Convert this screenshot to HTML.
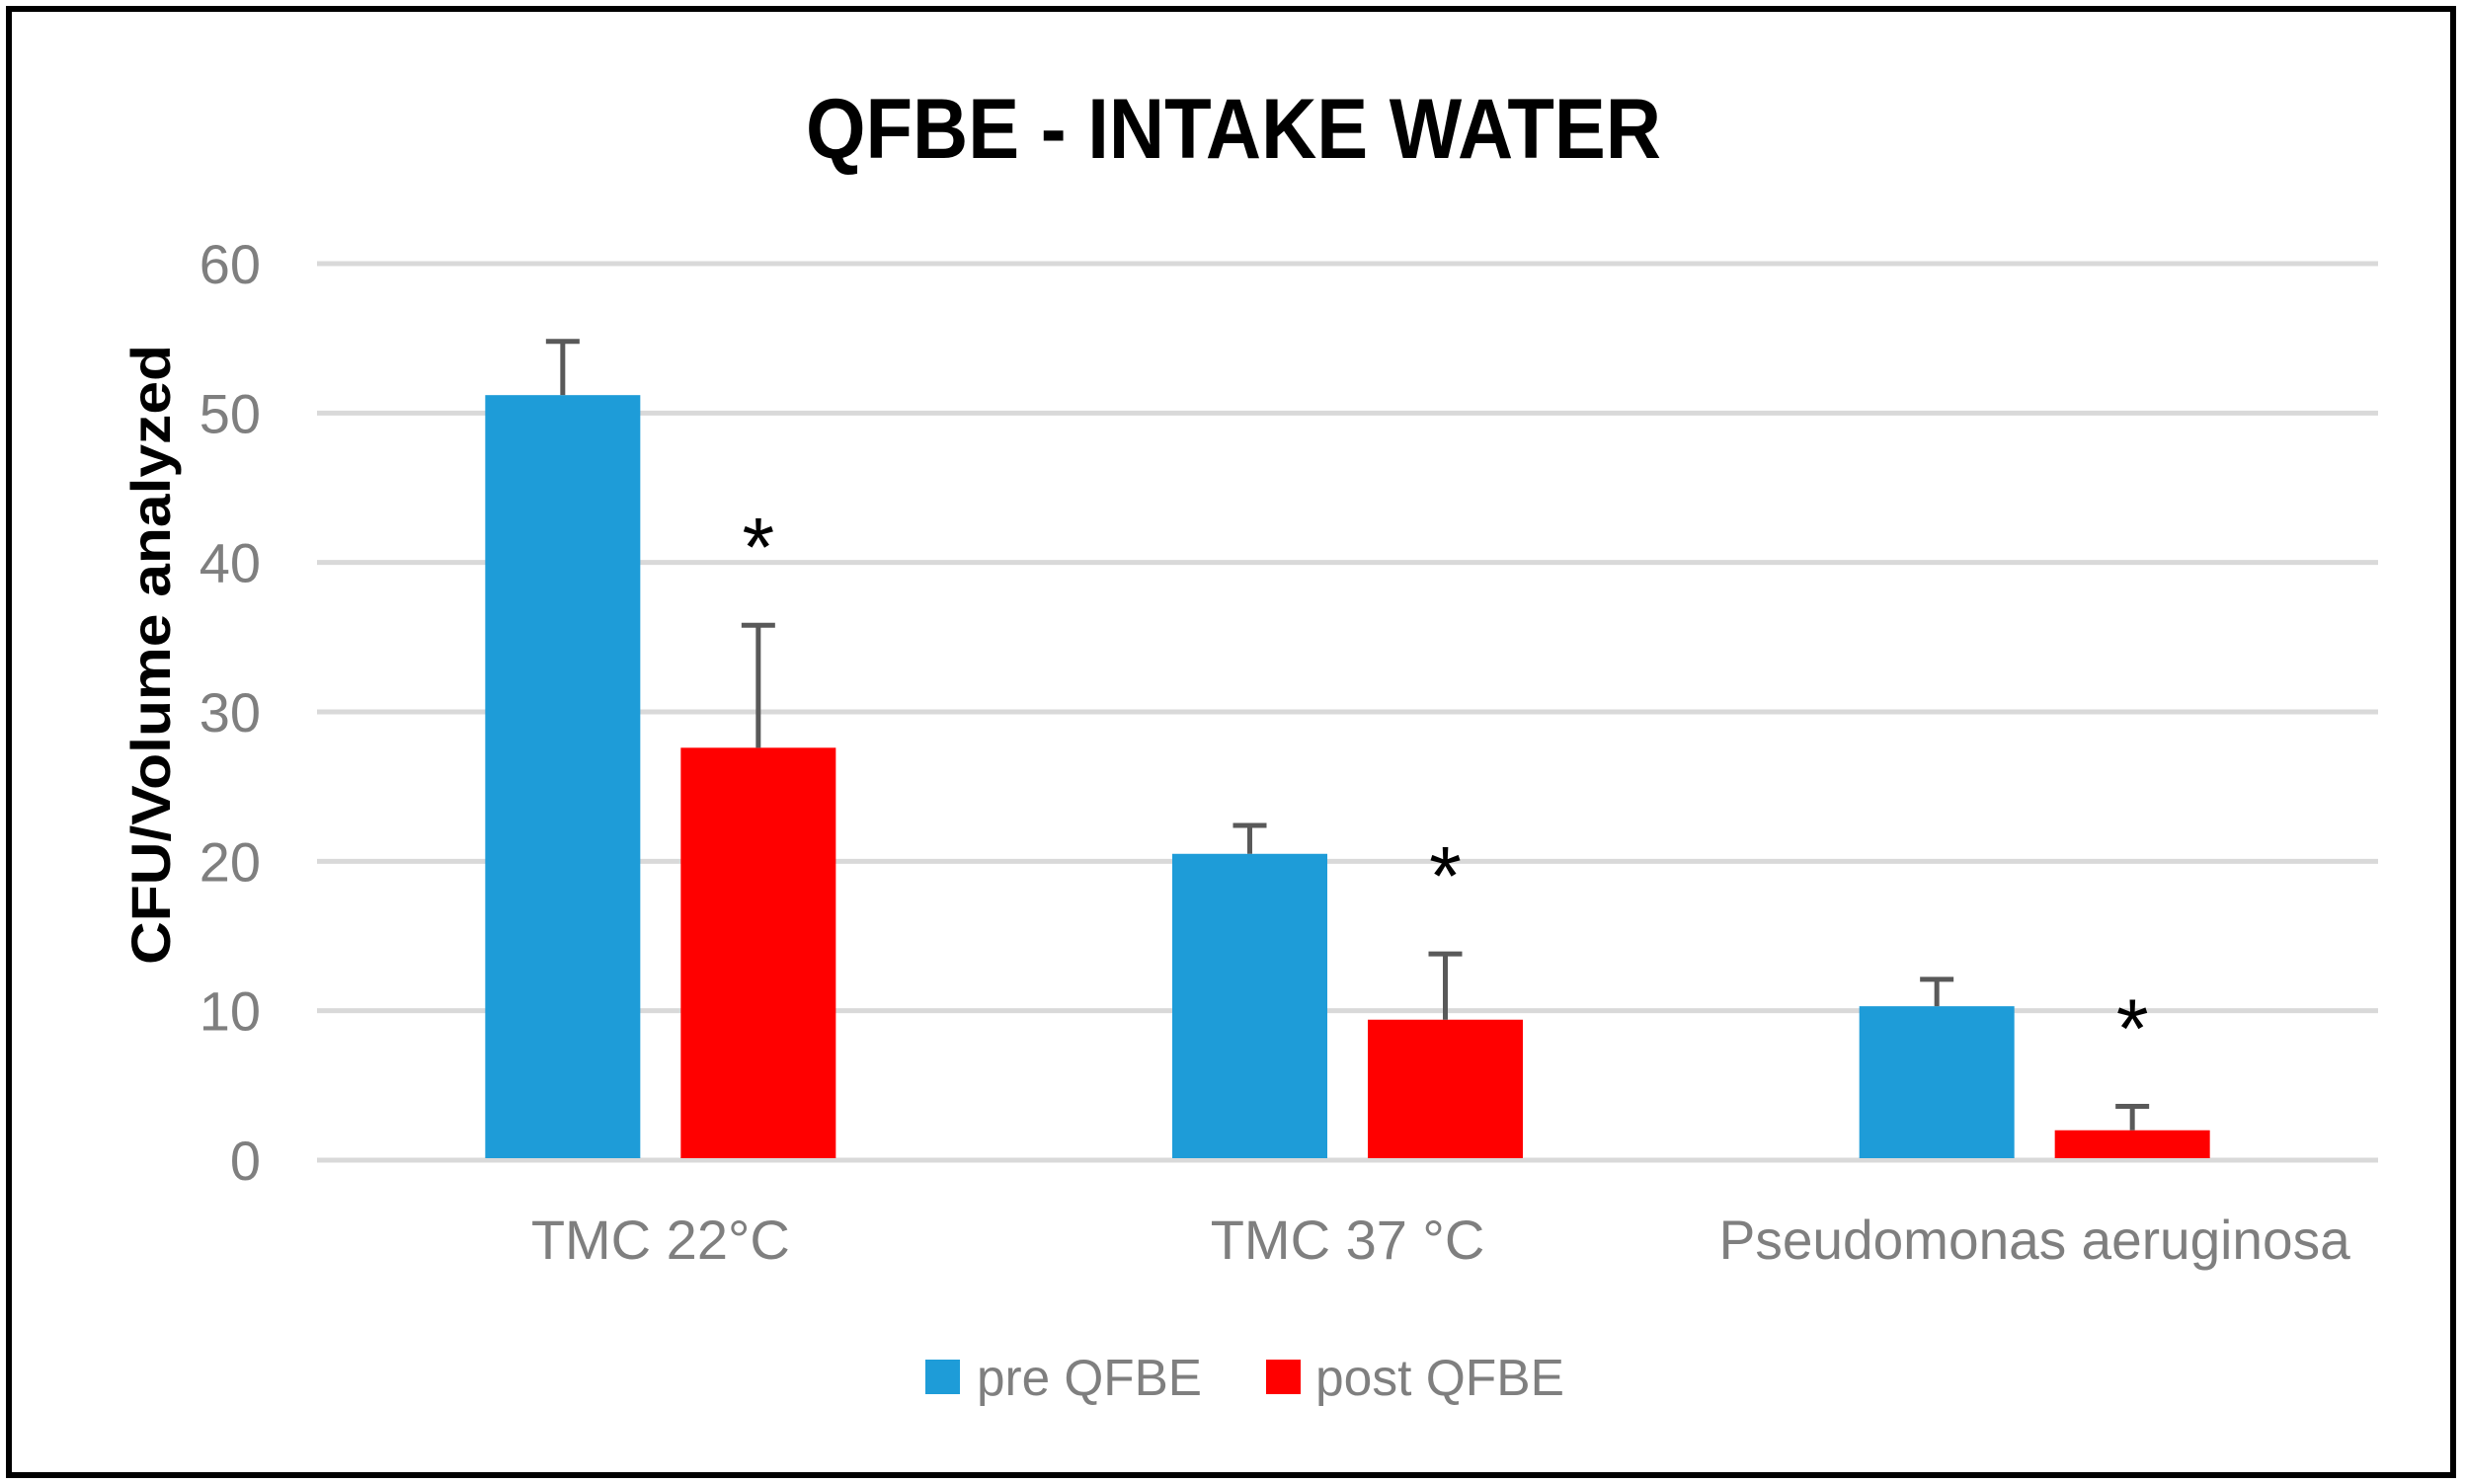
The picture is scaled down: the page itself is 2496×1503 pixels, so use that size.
<!DOCTYPE html>
<html><head><meta charset="utf-8"><style>
html,body{margin:0;padding:0;background:#fff;}
svg{display:block;}
</style></head><body>
<svg id="chart" width="2496" height="1503" viewBox="0 0 2496 1503" xmlns="http://www.w3.org/2000/svg" font-family="'Liberation Sans', sans-serif">
<rect x="9" y="9" width="2475" height="1485" fill="#fff" stroke="#000" stroke-width="6"/>
<text x="1249" y="160" text-anchor="middle" font-size="86" font-weight="bold" fill="#000" textLength="866" lengthAdjust="spacingAndGlyphs">QFBE - INTAKE WATER</text>
<text transform="translate(172,663) rotate(-90)" text-anchor="middle" font-size="56" font-weight="bold" fill="#000" textLength="628" lengthAdjust="spacingAndGlyphs">CFU/Volume analyzed</text>
<g id="grid"></g><g id="bars"></g><g id="labels"></g>
<g>
<rect x="937" y="1377" width="35" height="35" fill="#1e9cd8"/>
<text x="989" y="1413" font-size="52" fill="#7f7f7f" textLength="228" lengthAdjust="spacingAndGlyphs">pre QFBE</text>
<rect x="1282" y="1377" width="35" height="35" fill="#ff0000"/>
<text x="1332" y="1413" font-size="52" fill="#7f7f7f" textLength="252" lengthAdjust="spacingAndGlyphs">post QFBE</text>
</g>
</svg>
<script>
const categories = ["TMC 22°C", "TMC 37 °C", "Pseudomonas aeruginosa"];
const preValues = [51.2, 20.5, 10.3];
const preErrors = [3.6, 1.9, 1.8];
const postValues = [27.6, 9.4, 2.0];
const postErrors = [8.2, 4.4, 1.6];
const significant = [true, true, true];
const yTicks = [0, 10, 20, 30, 40, 50, 60];

const NS = "http://www.w3.org/2000/svg";
const plotL = 321, plotR = 2408, y0 = 1175, yTop = 267, yMax = 60;
const yScale = v => y0 - (v / yMax) * (y0 - yTop);
const groupW = (plotR - plotL) / categories.length;
const xCenter = i => plotL + groupW * (i + 0.5);
const barW = 157, gap = 41;
function mk(tag, attrs, parent) {
  const e = document.createElementNS(NS, tag);
  for (const k in attrs) e.setAttribute(k, attrs[k]);
  parent.appendChild(e); return e;
}
const grid = document.getElementById("grid");
const bars = document.getElementById("bars");
const labels = document.getElementById("labels");
yTicks.forEach(t => {
  const l = mk("line", {x1: plotL, x2: plotR, y1: yScale(t), y2: yScale(t), stroke: "#d9d9d9", "stroke-width": 5}, grid);
  
  
  const tx = mk("text", {x: 264, y: yScale(t) + 20, "text-anchor": "end", "font-size": 56, fill: "#7f7f7f"}, labels);
  tx.textContent = t;
  
  
});
function drawBar(x, v, err, color, name) {
  const r = mk("rect", {x: x, y: yScale(v), width: barW, height: y0 - yScale(v) - 2, fill: color}, bars);
  
  
  const cx = x + barW / 2, top = yScale(v + err);
  const e1 = mk("line", {x1: cx, x2: cx, y1: yScale(v), y2: top, stroke: "#595959", "stroke-width": 5}, bars);
  
  
  const e2 = mk("line", {x1: cx - 17, x2: cx + 17, y1: top, y2: top, stroke: "#595959", "stroke-width": 5}, bars);
  
  
  return {cx, top};
}
categories.forEach((c, i) => {
  const cxm = xCenter(i);
  drawBar(cxm - gap / 2 - barW, preValues[i], preErrors[i], "#1e9cd8", "bar-pre-" + (i + 1));
  const p = drawBar(cxm + gap / 2, postValues[i], postErrors[i], "#ff0000", "bar-post-" + (i + 1));
  if (significant[i]) {
    const s = mk("text", {x: p.cx, y: p.top - 50, "text-anchor": "middle", "font-size": 84, fill: "#000"}, labels);
    s.textContent = "*";
    
    
  }
  const lb = mk("text", {x: cxm, y: 1275, "text-anchor": "middle", "font-size": 56, fill: "#7f7f7f"}, labels);
  if (i === 2) { lb.setAttribute("textLength", 639); lb.setAttribute("lengthAdjust", "spacingAndGlyphs"); }
  lb.textContent = c;
  
  
});
</script>
</body></html>
